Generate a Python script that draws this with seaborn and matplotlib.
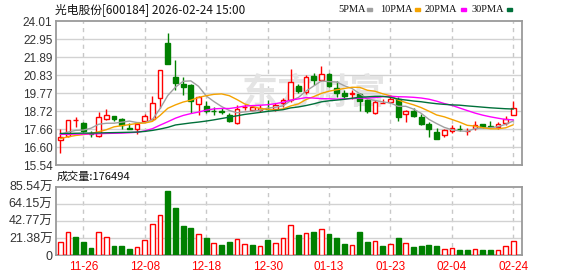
import matplotlib
matplotlib.use("Agg")
import matplotlib.pyplot as plt
from matplotlib.patches import Rectangle
import seaborn as sns
import numpy as np
import pandas as pd

# ---------------- data ----------------
dates = ["11-21", "11-24", "11-25", "11-26", "11-27", "11-28",
         "12-01", "12-02", "12-03", "12-04", "12-05",
         "12-08", "12-09", "12-10", "12-11", "12-12",
         "12-15", "12-16", "12-17", "12-18", "12-19",
         "12-22", "12-23", "12-24", "12-25", "12-26",
         "12-29", "12-30", "12-31",
         "01-05", "01-06", "01-07", "01-08", "01-09",
         "01-12", "01-13", "01-14", "01-15", "01-16",
         "01-19", "01-20", "01-21", "01-22", "01-23",
         "01-26", "01-27", "01-28", "01-29", "01-30",
         "02-02", "02-03", "02-04", "02-05", "02-06",
         "02-09", "02-10", "02-11", "02-12", "02-13",
         "02-24"]

opens = [17.01, 17.23, 18.17, 18.01, 17.42, 17.24, 18.28, 18.43, 18.25, 17.72,
         17.66, 18.12, 18.27, 19.50, 22.73, 20.73, 20.32, 20.26, 19.12, 19.02,
         18.75, 18.72, 18.49, 18.01, 18.93, 18.80, 18.78, 18.86, 18.86, 19.20,
         19.35, 20.20, 19.86, 20.80, 20.54, 20.91, 20.10, 19.80, 19.72, 19.73,
         19.39, 18.63, 19.19, 19.24, 19.42, 18.54, 18.74, 18.39, 17.97, 17.51,
         17.28, 17.53, 17.66, 17.54, 17.73, 17.96, 17.82, 17.76, 17.99, 18.51]
highs = [17.67, 18.22, 18.38, 18.09, 17.56, 18.68, 18.82, 18.45, 18.31, 18.02,
         17.95, 18.57, 19.62, 21.15, 23.34, 21.70, 20.72, 20.30, 19.63, 19.31,
         18.95, 18.88, 18.61, 19.09, 19.12, 19.09, 19.05, 19.39, 19.19, 19.50,
         21.20, 20.30, 20.86, 20.96, 21.37, 20.95, 20.49, 19.98, 19.96, 19.80,
         19.43, 19.40, 19.43, 19.58, 19.54, 18.79, 18.88, 18.53, 18.10, 17.73,
         17.67, 17.92, 17.92, 17.74, 18.11, 17.98, 18.16, 18.08, 18.43, 19.34]
lows = [16.27, 17.20, 17.80, 17.50, 17.20, 17.19, 18.22, 18.15, 17.68, 17.64,
        17.35, 18.08, 18.20, 18.92, 21.50, 19.97, 19.68, 18.62, 18.46, 18.58,
        18.50, 18.53, 18.06, 17.94, 18.80, 18.70, 18.68, 18.80, 18.75, 18.95,
        19.26, 19.80, 19.75, 20.27, 20.52, 20.15, 19.55, 19.41, 19.43, 18.75,
        18.61, 18.57, 19.17, 19.20, 18.16, 18.06, 18.39, 17.92, 17.21, 17.09,
        17.19, 17.42, 17.53, 17.33, 17.62, 17.72, 17.72, 17.68, 17.90, 18.50]
closes = [17.20, 18.20, 18.22, 17.57, 17.36, 18.36, 18.49, 18.24, 17.87, 17.68,
          17.93, 18.43, 19.18, 21.13, 21.52, 20.38, 20.16, 19.30, 19.53, 18.70,
          18.72, 18.69, 18.14, 18.85, 18.96, 18.93, 18.92, 18.83, 19.07, 19.39,
          20.42, 19.88, 20.72, 20.57, 20.88, 20.22, 19.76, 19.62, 19.76, 19.33,
          18.72, 19.27, 19.22, 19.44, 18.34, 18.73, 18.44, 17.98, 17.67, 17.10,
          17.61, 17.72, 17.64, 17.56, 17.90, 17.78, 17.79, 17.97, 18.25, 18.90]

# volume in 万 (10k)
volumes = [15.9, 28.4, 22.2, 16.3, 8.8, 28.4, 22.2, 11.3, 11.3, 7.5,
           9.6, 18.4, 38.4, 49.7, 79.8, 58.5, 36.3, 33.8, 25.9, 21.3,
           14.6, 12.5, 16.3, 19.6, 13.4, 12.5, 10.9, 18.8, 14.6, 20.9,
           37.2, 24.7, 27.6, 28.8, 32.2, 26.3, 21.3, 13.8, 12.5, 28.8,
           16.3, 17.5, 11.3, 13.8, 21.3, 14.6, 10.0, 11.3, 12.1, 11.3,
           7.1, 8.4, 6.3, 6.3, 7.1, 6.3, 6.3, 6.7, 10.9, 17.6494]
# 1 = rising (red) volume bar, 0 = falling (green)
vol_up = [1, 1, 0, 0, 0, 1, 1, 0, 0, 0,
          1, 1, 1, 1, 0, 0, 0, 0, 1, 0,
          1, 0, 0, 1, 1, 0, 1, 0, 1, 1,
          1, 0, 1, 0, 1, 0, 0, 0, 1, 0,
          0, 1, 0, 1, 0, 1, 0, 0, 0, 0,
          1, 1, 0, 0, 1, 0, 0, 1, 1, 1]

# moving-average values before a full window is available
ma5_head = [17.35, 17.48, 17.58, 17.60]
ma10_head = [17.10, 17.20, 17.28, 17.33, 17.40, 17.50, 17.62, 17.79, 17.86]
ma20_head = [17.34, 17.35, 17.36, 17.36, 17.37, 17.38, 17.40, 17.41, 17.42, 17.44,
             17.47, 17.55, 17.68, 17.89, 18.09, 18.30, 18.46, 18.57, 18.66]
ma30_head = [17.40, 17.40, 17.41, 17.42, 17.42, 17.43, 17.44, 17.45, 17.46, 17.47,
             17.48, 17.52, 17.58, 17.66, 17.76, 17.90, 17.96, 18.02, 18.07, 18.13,
             18.20, 18.28, 18.36, 18.44, 18.52, 18.58, 18.64, 18.70, 18.75]

price_ticks = [15.54, 16.60, 17.66, 18.72, 19.77, 20.83, 21.89, 22.95, 24.01]
vol_ticks = [0, 21.38, 42.77, 64.15, 85.54]
vol_tick_labels = ["0", "21.38万", "42.77万", "64.15万", "85.54万"]
xtick_labels = ["11-26", "12-08", "12-18", "12-30", "01-13", "01-23", "02-04", "02-24"]

title_text = "光电股份[600184] 2026-02-24 15:00"
vol_title = "成交量:176494"
ma_names = ["5PMA", "10PMA", "20PMA", "30PMA"]
watermark = "东方财富"

# ---------------- style ----------------
RED = "#ff0000"
GREEN = "#008000"
ma_colors = {"5PMA": "#a0a0a0", "10PMA": "#f5a300", "20PMA": "#ff00ff", "30PMA": "#00703a"}
GRID = "#d2d2d2"
SPINE = "#9a9a9a"

sns.set_theme(style="white")
plt.rcParams["font.family"] = ["Liberation Sans", "Noto Sans CJK SC", "DejaVu Sans"]

W, H = 578, 276
fig = plt.figure(figsize=(W / 100, H / 100), dpi=100)
fig.patch.set_facecolor("white")

def fx(px):
    return px / W

def fy(py):
    return 1 - py / H

ax = fig.add_axes([fx(56), fy(165), fx(522) - fx(56), fy(21.3) - fy(165)])
axv = fig.add_axes([fx(56), fy(255), fx(522) - fx(56), fy(186.7) - fy(255)])

n = len(closes)
x = np.arange(n)
o = np.array(opens); c = np.array(closes); hi = np.array(highs); lo = np.array(lows)
up = c >= o

# moving averages
cs = pd.Series(c)
mas = {}
for name, win, head in [("5PMA", 5, ma5_head), ("10PMA", 10, ma10_head),
                        ("20PMA", 20, ma20_head), ("30PMA", 30, ma30_head)]:
    roll = cs.rolling(win).mean().to_numpy()
    roll[:len(head)] = head
    mas[name] = roll

df_ma = pd.DataFrame([{"idx": i, "ma": k, "value": v[i]} for k, v in mas.items() for i in range(n)])

xlim = (-0.56, 60.13)
tick_pos = [dates.index(d) for d in xtick_labels]

for a in (ax, axv):
    a.set_xlim(*xlim)
    for s in a.spines.values():
        s.set_color(SPINE)
        s.set_linewidth(1.3)
    for p in tick_pos:
        a.axvline(p, color="#c8c8c8", lw=1, ls=(0, (3, 3)), zorder=0)
    a.tick_params(axis="both", length=0)

# ---- price pane ----
ax.set_ylim(price_ticks[0], price_ticks[-1])
for t in price_ticks[1:-1]:
    ax.axhline(t, color=GRID, lw=1, zorder=0)
ax.text(0.555, 0.50, watermark, transform=ax.transAxes, ha="center", va="center",
        fontsize=26, fontweight="bold", color="#e4e4e4", family=["Noto Sans CJK SC"], zorder=0.5)

ax.vlines(x, lo, hi, colors=[RED if u else GREEN for u in up], lw=1, zorder=2)
body_h = np.maximum(np.abs(c - o), 0.006)
ax.bar(x, body_h, bottom=np.minimum(o, c), width=0.62,
       color=["white" if u else GREEN for u in up],
       edgecolor=[RED if u else GREEN for u in up], linewidth=1, zorder=3)

sns.lineplot(data=df_ma, x="idx", y="value", hue="ma", palette=ma_colors,
             hue_order=ma_names, legend=False, ax=ax, linewidth=1, zorder=4)
ax.set_xlabel(""); ax.set_ylabel("")
ax.set_xticks([])
ax.set_yticks(price_ticks)
ax.set_yticklabels([f"{t:.2f}" for t in price_ticks], fontsize=8.5, color="#333333")
ax.tick_params(axis="y", pad=2.5)

# ---- volume pane ----
axv.set_ylim(vol_ticks[0], vol_ticks[-1])
for t in vol_ticks[1:-1]:
    axv.axhline(t, color=GRID, lw=1, zorder=0)
axv.bar(x, volumes, width=0.62,
        color=["white" if u else GREEN for u in vol_up],
        edgecolor=[RED if u else GREEN for u in vol_up], linewidth=1, zorder=3)
axv.set_yticks(vol_ticks)
axv.set_yticklabels(vol_tick_labels, fontsize=9, color="#333333")
axv.tick_params(axis="y", pad=2.5)
axv.set_xticks(tick_pos)
axv.set_xticklabels(xtick_labels, fontsize=8.5, color=RED)
axv.tick_params(axis="x", pad=4)

# ---- texts ----
fig.text(fx(55), fy(10), title_text, fontsize=8.5, ha="left", va="center",
         color="#111111", family=["Noto Sans CJK SC", "DejaVu Sans"])
fig.text(fx(57), fy(177), vol_title, fontsize=8, ha="left", va="center",
         color="#111111", family=["Noto Sans CJK SC", "DejaVu Sans"])

leg_x = [338, 380, 425, 472]
mark_x = [367, 415, 461, 507]
for name, tx, mx in zip(ma_names, leg_x, mark_x):
    fig.text(fx(tx), fy(9), name, fontsize=7.5, ha="left", va="center",
             color="#111111", family=["Liberation Serif"])
    fig.add_artist(Rectangle((fx(mx), fy(11)), fx(5), fy(8) - fy(11),
                             transform=fig.transFigure, color=ma_colors[name]))

fig.savefig("out.png", dpi=100, facecolor="white")
